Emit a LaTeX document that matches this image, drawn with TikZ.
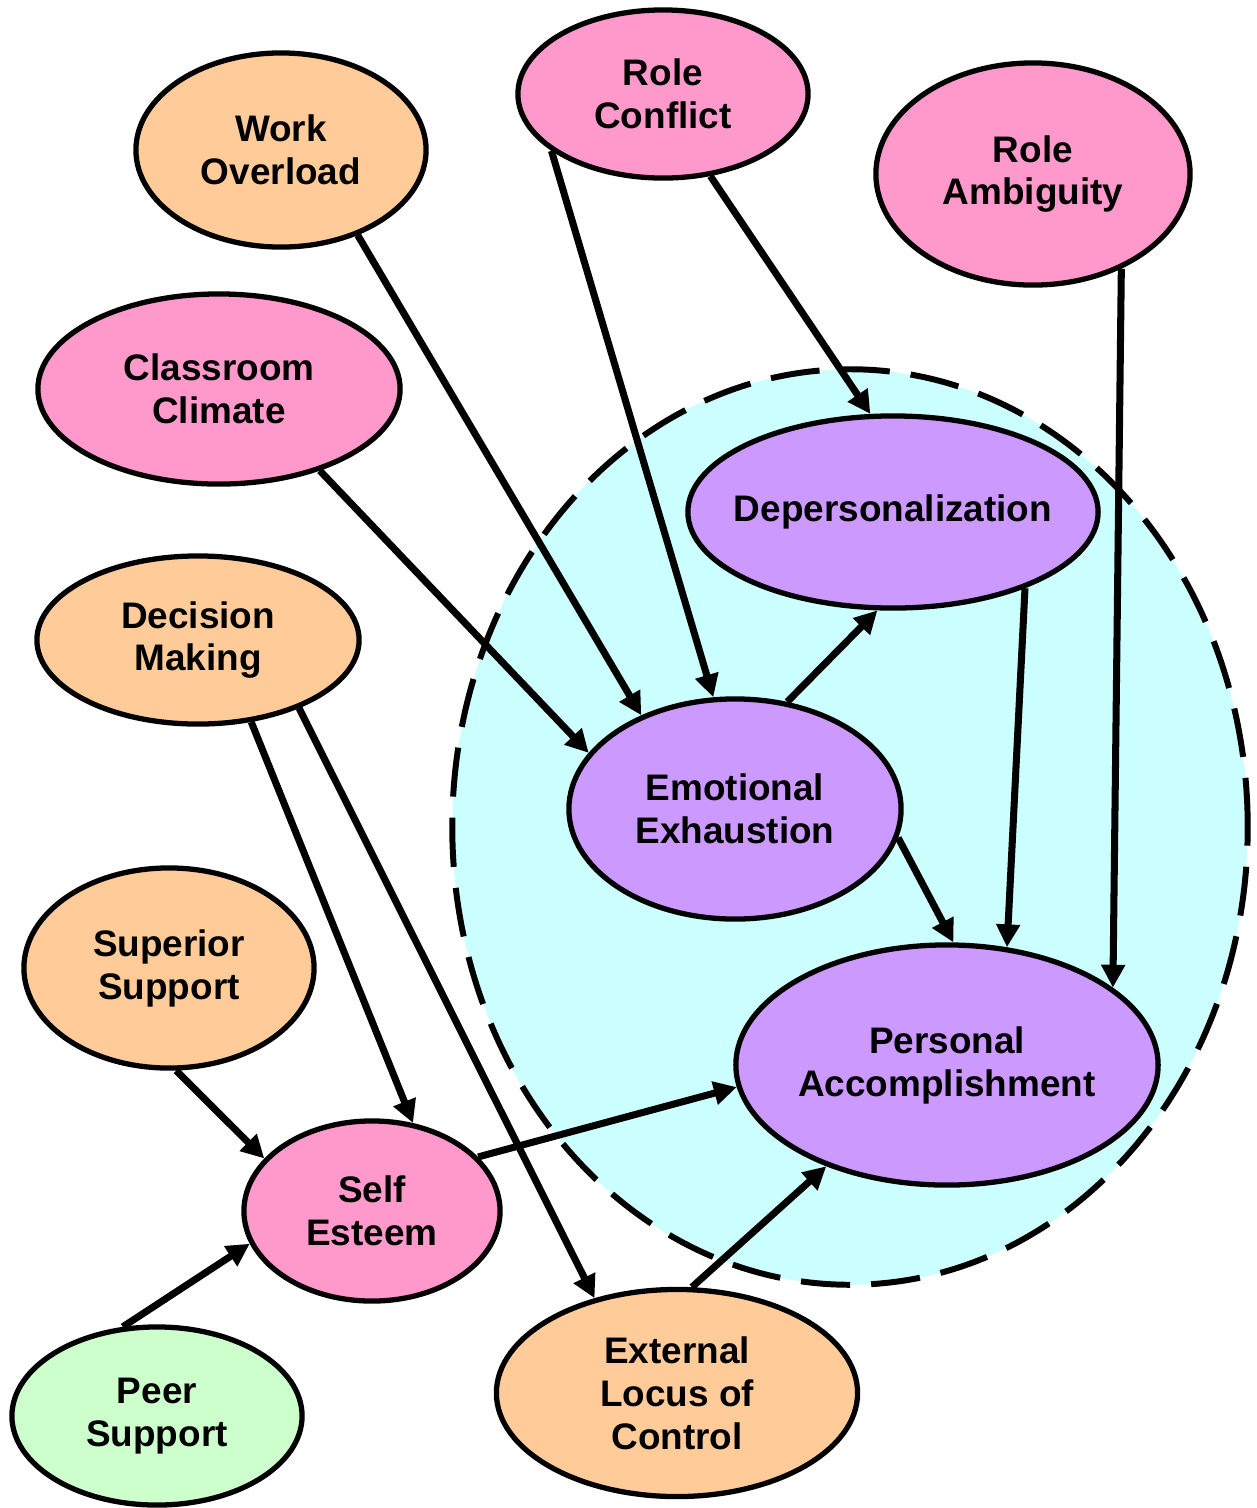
\documentclass[tikz,border=0pt]{standalone}
\usepackage{fontspec}
\setmainfont{Liberation Sans}
\usepackage{tikz}
\usetikzlibrary{arrows.meta,shapes.geometric}
\definecolor{orng}{HTML}{FFCC99}
\definecolor{pnk}{HTML}{FF99CC}
\definecolor{prpl}{HTML}{CC99FF}
\definecolor{grn}{HTML}{CCFFCC}
\definecolor{cyn}{HTML}{CCFFFF}
\tikzset{
	blob/.style={draw, ellipse, line width=1.5pt, inner sep=0pt, align=center,
		font=\bfseries\fontsize{10.5}{12.2}\selectfont},
	cause/.style={blob, fill=orng},
	strs/.style={blob, fill=pnk},
	burn/.style={blob, fill=prpl},
	peer/.style={blob, fill=grn},
	zone/.style={draw, ellipse, fill=cyn, line width=1.7pt, dash pattern=on 14pt off 6pt},
	arr/.style={line width=2pt, -{Triangle[length=6.5pt, width=6.5pt]}},
}

\begin{document}
\begin{tikzpicture}[x=0.01cm, y=-0.01cm]
				\useasboundingbox (0,0) rectangle (1256,1508);
				\node[zone, minimum width=79.5mm, minimum height=91.5mm] at (850,827) (bz) {};
				\node[cause, minimum width=29mm, minimum height=19.4mm] at (281,150) (wo) {Work\\Overload};
				\node[strs, minimum width=29mm, minimum height=16.8mm] at (663,94) (rc) {Role\\Conflict};
				\node[strs, minimum width=31.4mm, minimum height=22.2mm] at (1033,174) (ra) {Role\\Ambiguity};
				\node[strs, minimum width=36.2mm, minimum height=19mm] at (219,389) (cc) {Classroom\\Climate};
				\node[burn, minimum width=41mm, minimum height=19.2mm, inner xsep=-3mm] at (893,512) (dp) {Depersonalization};
				\node[cause, minimum width=32.2mm, minimum height=16.8mm] at (198,640) (dm) {Decision\\Making};
				\node[burn, minimum width=33.2mm, minimum height=22mm] at (735,809) (ee) {Emotional\\Exhaustion};
				\node[cause, minimum width=29mm, minimum height=20mm] at (169,968) (ss) {Superior\\Support};
				\node[burn, minimum width=42.2mm, minimum height=24mm, inner xsep=-2mm] at (947,1065) (pa) {Personal\\Accomplishment};
				\node[strs, minimum width=25.6mm, minimum height=18mm] at (372,1211) (se) {Self\\Esteem};
				\node[peer, minimum width=29mm, minimum height=17.8mm] at (157,1416) (ps) {Peer\\Support};
				\node[cause, minimum width=36.1mm, minimum height=20.7mm] at (677,1393) (el) {External\\Locus of\\Control};
				% causal links
				\draw[arr] (wo.-48.5) -- (ee.135.3);
				\draw[arr] (rc.207.4) -- (ee.101.2);
				\draw[arr] (rc.-60.6) -- (dp.103.8);
				\draw[arr] (ra.-47.4) -- (pa.25.1);
				\draw[arr] (cc.-39.9) -- (ee.159.9);
				\draw[arr] (ee.64.3) -- (dp.261.3);
				\draw[arr] (dp.-30.6) -- (pa.63.1);
				\draw[arr] (ee.-10.5) -- (pa.87.7);
				\draw[arr] (dm.-57.7) -- (se.65.9);
				\draw[arr] (dm.-34.4) -- (el.131.9);
				\draw[arr] (ss.-86.4) -- (se.154.7);
				\draw[arr] (se.27.5) -- (pa.186.9);
				\draw[arr] (ps.111.8) -- (se.195.4);
				\draw[arr] (el.82.8) -- (pa.220.5);
			\end{tikzpicture}
\end{document}
